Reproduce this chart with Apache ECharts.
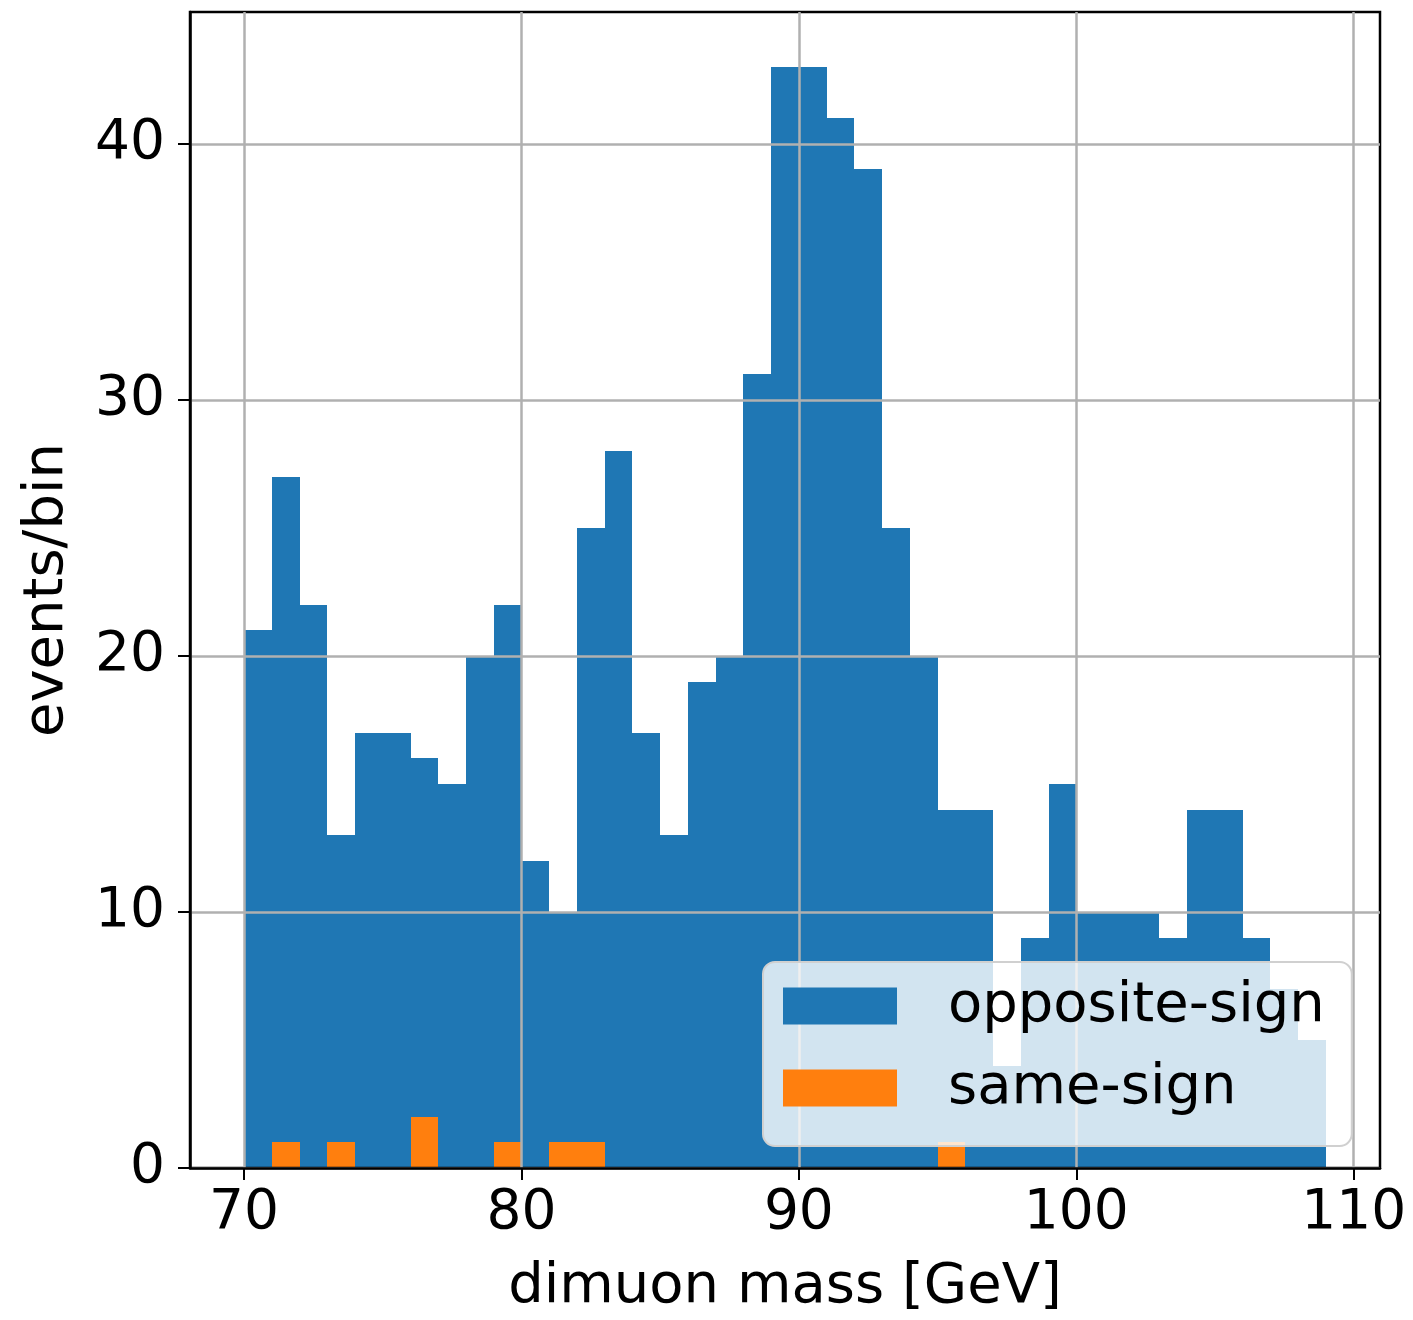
<!DOCTYPE html>
<html><head><meta charset="utf-8">
<script src="https://cdn.jsdelivr.net/npm/echarts@6/dist/echarts.min.js"></script>
<style>html,body{margin:0;padding:0;background:#fff}#c{width:1413px;height:1320px}</style>
</head><body><div id="c"></div>
<script>
const binEdges = [70,71,72,73,74,75,76,77,78,79,80,81,82,83,84,85,86,87,88,89,90,91,92,93,94,95,96,97,98,99,100,101,102,103,104,105,106,107,108,109];
const oppositeSign = [21,27,22,13,17,17,16,15,20,22,12,10,25,28,17,13,19,20,31,43,43,41,39,25,20,14,14,4,9,15,10,10,10,9,14,14,9,7,5];
const sameSign = [0,1,0,1,0,0,2,0,0,1,0,1,1,0,0,0,0,0,0,0,0,0,0,0,0,1,0,0,0,0,0,0,0,0,0,0,0,0,0];
const xTicks = [70,80,90,100,110];
const yTicks = [0,10,20,30,40];
const seriesNames = ['opposite-sign','same-sign'];
const colors = ['#1f77b4','#ff7f0e'];
const xRange = [68.05, 110.95];
const yRange = [0, 45.15];

function toData(counts){
  const out = [];
  for (let i = 0; i < counts.length; i++) {
    if (counts[i] > 0) out.push([binEdges[i], binEdges[i+1], counts[i]]);
  }
  return out;
}
function renderBar(params, api){
  const p0 = api.coord([api.value(0), api.value(2)]);
  const p1 = api.coord([api.value(1), 0]);
  const x0 = Math.round(p0[0]), x1 = Math.round(p1[0]);
  const y0 = Math.round(p0[1]), y1 = p1[1];
  return {type:'rect', shape:{x:x0, y:y0, width:x1-x0, height:y1-y0}, style:{fill: api.visual('color')}};
}
const FONT = 'DejaVu Sans';
const chart = echarts.init(document.getElementById('c'), null, {renderer:'canvas'});
chart.setOption({
  animation:false,
  backgroundColor:'#ffffff',
  color: colors,
  grid:{left:190, right:33, top:12, bottom:150, show:true, borderColor:'#000', borderWidth:2.5, backgroundColor:'transparent', z:3},
  xAxis:{
    type:'value', min:xRange[0], max:xRange[1], z:3,
    name:'dimuon mass [GeV]', nameLocation:'middle', nameGap:91,
    nameTextStyle:{fontFamily:FONT, fontSize:56, color:'#000'},
    axisLine:{show:true, onZero:false, lineStyle:{color:'#000', width:2.5}},
    axisTick:{show:true, length:12, customValues:xTicks, lineStyle:{color:'#000', width:2}},
    axisLabel:{customValues:xTicks, fontFamily:FONT, fontSize:55, color:'#000', margin:18},
    splitLine:{show:true, lineStyle:{color:'#b0b0b0', width:2.5}}
  },
  yAxis:{
    type:'value', min:yRange[0], max:yRange[1], z:3,
    name:'events/bin', nameLocation:'middle', nameGap:115,
    nameTextStyle:{fontFamily:FONT, fontSize:56, color:'#000'},
    axisLine:{show:true, lineStyle:{color:'#000', width:2.5}},
    axisTick:{show:true, length:12, customValues:yTicks, lineStyle:{color:'#000', width:2}},
    axisLabel:{customValues:yTicks, fontFamily:FONT, fontSize:55, color:'#000', margin:25},
    splitLine:{show:true, lineStyle:{color:'#b0b0b0', width:2.5}}
  },
  legend:{
    orient:'vertical', left:763, top:962,
    padding:[16,27,30,20],
    itemWidth:114, itemHeight:37, itemGap:26,
    backgroundColor:'rgba(255,255,255,0.8)',
    borderColor:'#d0d0d0', borderWidth:2, borderRadius:12,
    icon:'rect',
    textStyle:{fontFamily:FONT, fontSize:56, lineHeight:40, color:'#000', padding:[0,0,0,46]},
    data: seriesNames,
    z:10
  },
  series:[
    {name:seriesNames[0], type:'custom', renderItem:renderBar, encode:{x:[0,1], y:2}, data:toData(oppositeSign), itemStyle:{color:colors[0]}, z:2},
    {name:seriesNames[1], type:'custom', renderItem:renderBar, encode:{x:[0,1], y:2}, data:toData(sameSign), itemStyle:{color:colors[1]}, z:2}
  ]
});
</script></body></html>
